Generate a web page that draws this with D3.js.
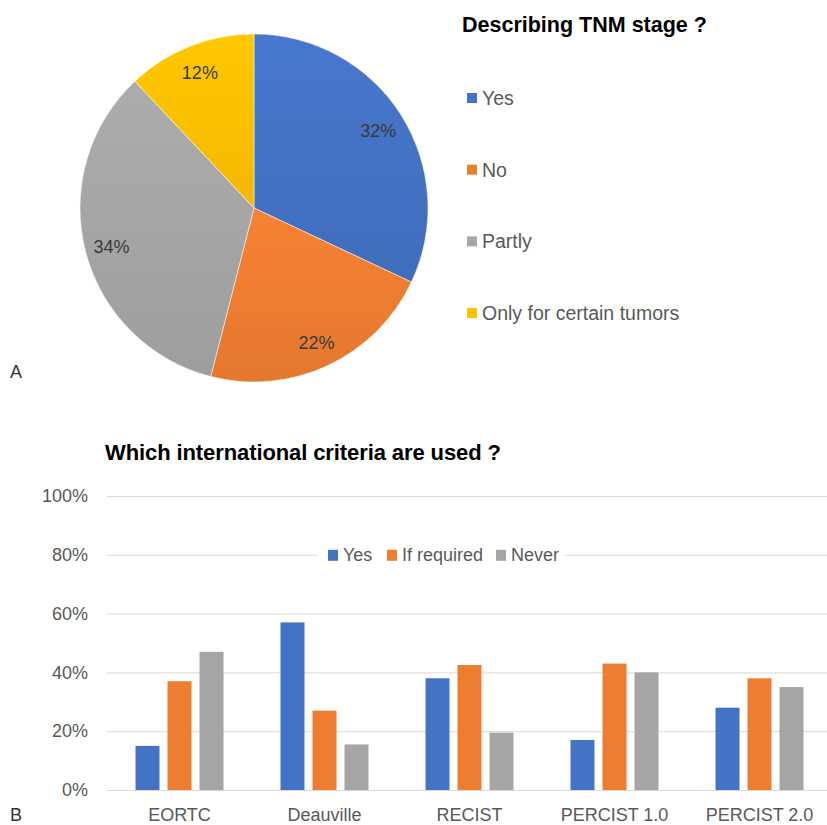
<!DOCTYPE html>
<html>
<head>
<meta charset="utf-8">
<title>TNM stage and international criteria</title>
<script src="https://cdn.jsdelivr.net/npm/d3@7"></script>
<style>
	body { margin: 0; background: #fff; font-family: "Liberation Sans", Arial, sans-serif; }
	.grid line { stroke: #d9d9d9; }
	.grid .domain { display: none; }
	text { fill: #595959; }
</style>
</head>
<body>
<svg width="827" height="825"></svg>
<script>
	// panel A
	var pieLabels = ["Yes", "No", "Partly", "Only for certain tumors"];
	var pieValues = [32, 22, 34, 12];
	var pieColors = ["#4472c4", "#ed7d31", "#a5a5a5", "#ffc000"];

	// panel B
	var criteria = ["EORTC", "Deauville", "RECIST", "PERCIST 1.0", "PERCIST 2.0"];
	var answers = ["Yes", "If required", "Never"];
	var answerColors = ["#4472c4", "#ed7d31", "#a5a5a5"];
	var yesValues = [0.15, 0.57, 0.38, 0.17, 0.28];
	var ifRequiredValues = [0.37, 0.27, 0.425, 0.43, 0.38];
	var neverValues = [0.47, 0.155, 0.195, 0.40, 0.35];
	var yTicks = [0, 0.2, 0.4, 0.6, 0.8, 1];

	var svg = d3.select("svg");
	var defs = svg.append("defs");

	// ---- pie ----
	var cx = 254, cy = 208, r = 174;

	pieColors.forEach(function(c, i) {
		var grad = defs.append("linearGradient")
			.attr("id", "pg" + i)
			.attr("x1", 0).attr("y1", 0).attr("x2", 0).attr("y2", 1);
		grad.append("stop").attr("offset", "0%").attr("stop-color", d3.color(c).brighter(0.12));
		grad.append("stop").attr("offset", "100%").attr("stop-color", d3.color(c).darker(0.12));
	});

	var pie = d3.pie().sort(null).value(function(d) { return d; });
	var arcs = pie(pieValues);
	var arc = d3.arc().innerRadius(0).outerRadius(r);
	var labelArc = d3.arc().innerRadius(r * 0.845).outerRadius(r * 0.845);

	var pg = svg.append("g").attr("transform", "translate(" + cx + "," + cy + ")");

	pg.selectAll("path")
		.data(arcs)
		.enter().append("path")
		.attr("d", arc)
		.attr("fill", function(d, i) { return "url(#pg" + i + ")"; })
		.attr("stroke", "#fff")
		.attr("stroke-width", 0.5);

	pg.selectAll("text")
		.data(arcs)
		.enter().append("text")
		.attr("transform", function(d) { return "translate(" + labelArc.centroid(d) + ")"; })
		.attr("text-anchor", "middle")
		.attr("dy", "0.45em")
		.style("font-size", "18px")
		.style("fill", "#3a3a3a")
		.text(function(d) { return d.data + "%"; });

	svg.append("text")
		.attr("x", 462).attr("y", 32)
		.style("font-size", "21.5px")
		.style("font-weight", "bold")
		.style("fill", "#000")
		.text("Describing TNM stage ?");

	var pl = svg.append("g").selectAll("g")
		.data(pieLabels)
		.enter().append("g")
		.attr("transform", function(d, i) { return "translate(467," + (98 + i * 71.7) + ")"; });

	pl.append("rect")
		.attr("x", 0).attr("y", -5)
		.attr("width", 10).attr("height", 10)
		.attr("fill", function(d, i) { return pieColors[i]; });

	pl.append("text")
		.attr("x", 15).attr("dy", "0.35em")
		.style("font-size", "19.5px")
		.text(function(d) { return d; });

	svg.append("text")
		.attr("x", 10).attr("y", 378)
		.style("font-size", "18px")
		.style("fill", "#333")
		.text("A");

	// ---- bars ----
	var series = [yesValues, ifRequiredValues, neverValues];

	var x = d3.scaleBand()
		.domain(criteria)
		.range([107, 832])
		.paddingInner(0.393)
		.paddingOuter(0.1965);

	var x1 = d3.scaleBand()
		.domain(answers)
		.range([0, x.bandwidth()])
		.paddingInner(0.25);

	var y = d3.scaleLinear().domain([0, 1]).range([790, 496]);

	svg.append("g")
		.attr("class", "grid")
		.attr("transform", "translate(107,0)")
		.call(d3.axisLeft(y)
			.tickValues(yTicks)
			.tickFormat(d3.format(".0%"))
			.tickSize(-725)
			.tickPadding(19))
		.selectAll("text")
		.style("font-size", "18px")
		.style("font-family", "Liberation Sans, Arial, sans-serif")
		.style("fill", "#595959");

	var groups = svg.append("g").selectAll("g")
		.data(criteria)
		.enter().append("g")
		.attr("transform", function(d) { return "translate(" + x(d) + ",0)"; });

	groups.selectAll("rect")
		.data(function(d, ci) {
			return answers.map(function(a, si) { return { key: a, value: series[si][ci], color: answerColors[si] }; });
		})
		.enter().append("rect")
		.attr("x", function(d) { return x1(d.key); })
		.attr("y", function(d) { return y(d.value); })
		.attr("width", x1.bandwidth())
		.attr("height", function(d) { return y(0) - y(d.value); })
		.attr("fill", function(d) { return d.color; });

	var xAxis = svg.append("g")
		.attr("transform", "translate(0,790)")
		.call(d3.axisBottom(x).tickSize(0).tickPadding(18));
	xAxis.select(".domain").remove();
	xAxis.selectAll("text")
		.style("font-size", "18px")
		.style("font-family", "Liberation Sans, Arial, sans-serif")
		.style("fill", "#595959");

	// legend sits on the 80% line with a white box behind it
	var lg = svg.append("g").attr("transform", "translate(318," + y(0.8) + ")");
	lg.append("rect")
		.attr("x", 0).attr("y", -12)
		.attr("width", 247).attr("height", 24)
		.attr("fill", "#fff");
	var legendX = [10, 69, 178];
	var li = lg.selectAll("g.item")
		.data(answers)
		.enter().append("g")
		.attr("class", "item")
		.attr("transform", function(d, i) { return "translate(" + legendX[i] + ",0)"; });
	li.append("rect")
		.attr("x", 0).attr("y", -5)
		.attr("width", 10).attr("height", 11)
		.attr("fill", function(d, i) { return answerColors[i]; });
	li.append("text")
		.attr("x", 15).attr("dy", "0.35em")
		.style("font-size", "18px")
		.text(function(d) { return d; });

	svg.append("text")
		.attr("x", 105).attr("y", 460)
		.style("font-size", "22px")
		.style("font-weight", "bold")
		.style("letter-spacing", "-0.1px")
		.style("fill", "#000")
		.text("Which international criteria are used ?");

	svg.append("text")
		.attr("x", 10).attr("y", 821)
		.style("font-size", "18px")
		.style("fill", "#333")
		.text("B");
</script>
</body>
</html>
